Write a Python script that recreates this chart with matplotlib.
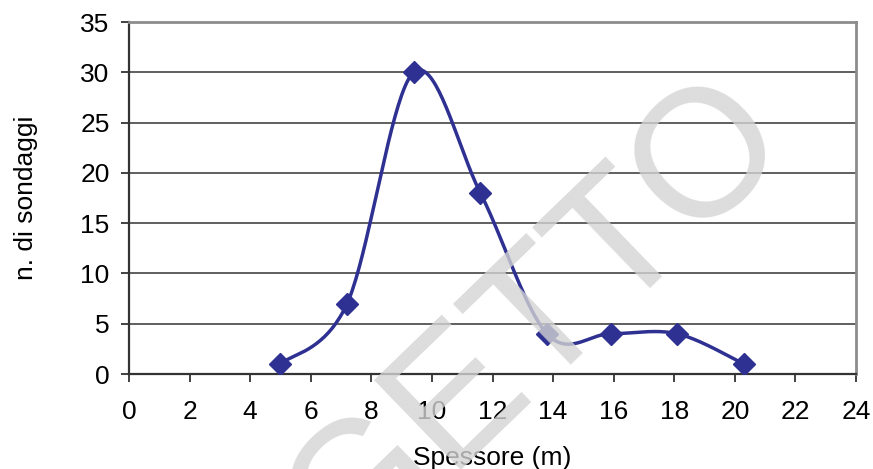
import numpy as np
import matplotlib
matplotlib.use("Agg")
import matplotlib.pyplot as plt

# thickness classes (m) and number of boreholes
spessore = [5.0, 7.2, 9.4, 11.6, 13.8, 15.9, 18.1, 20.3]
n_sondaggi = [1, 7, 30, 18, 4, 4, 4, 1]

x_ticks = list(range(0, 25, 2))
y_ticks = list(range(0, 36, 5))

line_color = "#2E3192"
grid_color = "#5f5f5f"
frame_color = "#8c8c8c"


def smooth_curve(xs, ys, steps=40):
    # Excel-style smoothed line: Catmull-Rom bezier through the points
    p = np.column_stack([xs, ys]).astype(float)
    p = np.vstack([p[0], p, p[-1]])
    out = []
    t = np.linspace(0, 1, steps)[:, None]
    for i in range(1, len(p) - 2):
        p0, p1, p2, p3 = p[i - 1], p[i], p[i + 1], p[i + 2]
        c1 = p1 + (p2 - p0) / 6
        c2 = p2 - (p3 - p1) / 6
        seg = ((1 - t) ** 3) * p1 + 3 * ((1 - t) ** 2) * t * c1 \
            + 3 * (1 - t) * t ** 2 * c2 + t ** 3 * p2
        out.append(seg)
    seg = np.vstack(out)
    return seg[:, 0], seg[:, 1]


plt.rcParams['font.family'] = ['Liberation Sans', 'DejaVu Sans']

fig = plt.figure(figsize=(8.73, 4.69), dpi=100)
ax = fig.add_axes([129 / 873, 1 - 374 / 469, (856 - 129) / 873, (374 - 22) / 469])

sx, sy = smooth_curve(spessore, n_sondaggi)
ax.plot(sx, sy, color=line_color, lw=2.5, zorder=3, solid_capstyle="round")
ax.plot(spessore, n_sondaggi, ls="none", marker="D", ms=11.5,
        color=line_color, zorder=4)

ax.set_xlim(0, 24)
ax.set_ylim(0, 35)
ax.set_xticks(x_ticks)
ax.set_yticks(y_ticks)
ax.yaxis.grid(True, color=grid_color, lw=1.4)
ax.set_axisbelow(True)

for side in ["left", "bottom"]:
    ax.spines[side].set_color("#333333")
    ax.spines[side].set_linewidth(1.6)
for side in ["top", "right"]:
    ax.spines[side].set_color(frame_color)
    ax.spines[side].set_linewidth(2.0)

ax.tick_params(axis="x", length=6, width=1.3, color="#333333",
               labelsize=19, pad=13)
ax.tick_params(axis="y", length=6, width=1.3, color="#333333",
               labelsize=19, pad=8)

ax.set_xlabel("Spessore (m)", fontsize=19)
ax.set_ylabel("n. di sondaggi", fontsize=19)
ax.xaxis.set_label_coords(0.5, (374 - 446) / 352)
ax.yaxis.set_label_coords((38 - 129) / 727, 0.5)

# watermark
fig.text(791 / 873, 1 - 138 / 469, "PROGETTO", fontsize=130, color="#d4d4d4",
         alpha=0.8, rotation=44, rotation_mode="anchor", ha="right",
         va="baseline", zorder=10)

fig.savefig("out.png", dpi=100)
